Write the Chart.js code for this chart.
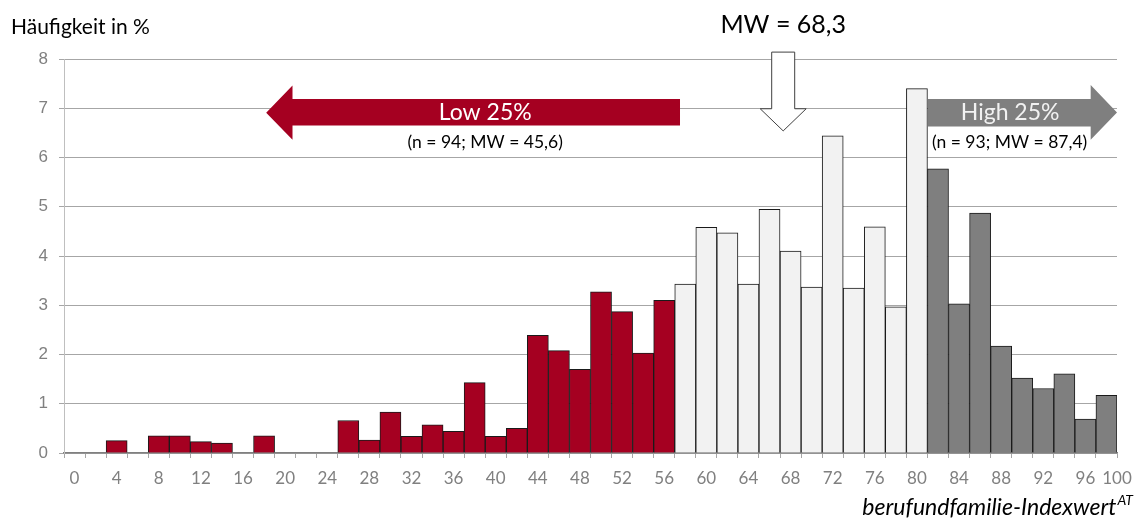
<!DOCTYPE html>
<html>
<head>
<meta charset="utf-8">
<title>berufundfamilie-Index Verteilung</title>
<script src="https://cdn.jsdelivr.net/npm/chart.js"></script>
<style>
    body { margin: 0; background: #fff; }
    #wrap { width: 1140px; height: 521px; }
</style>
</head>
<body>
<div id="wrap"><canvas id="indexChart"></canvas></div>
<script>
    // bins of width 2, labelled by lower bound
    const binLabels = ['0', '2', '4', '6', '8', '10', '12', '14', '16', '18',
        '20', '22', '24', '26', '28', '30', '32', '34', '36', '38',
        '40', '42', '44', '46', '48', '50', '52', '54', '56', '58',
        '60', '62', '64', '66', '68', '70', '72', '74', '76', '78',
        '80', '82', '84', '86', '88', '90', '92', '94', '96', '98'];
    // share of companies per bin, in %
    const shares = [0, 0, 0.25, 0, 0.35, 0.35, 0.23, 0.20, 0, 0.35,
        0, 0, 0, 0.66, 0.26, 0.83, 0.34, 0.57, 0.44, 1.43,
        0.34, 0.50, 2.39, 2.08, 1.70, 3.27, 2.87, 2.03, 3.10, 3.43,
        4.58, 4.47, 3.43, 4.95, 4.10, 3.37, 6.44, 3.35, 4.59, 2.97,
        7.40, 5.77, 3.03, 4.87, 2.17, 1.52, 1.31, 1.61, 0.69, 1.17];
    const lowLastBin = 56;    // bins up to here belong to the low 25%
    const highFirstBin = 82;  // bins from here belong to the high 25%
    const yMax = 8;
    const axisEndLabel = '100';

    const lowTexts = ['Low 25%', '(n = 94; MW = 45,6)'];
    const highTexts = ['High 25%', '(n = 93; MW = 87,4)'];
    const meanValue = 68.3;
    const meanText = 'MW = 68,3';

    const RED = '#A50021';
    const LIGHT = '#F2F2F2';
    const GREY = '#7F7F7F';

    // empty bins stay invisible
    const barColors = binLabels.map((l, i) => {
        const v = Number(l);
        if (!(shares[i] > 0)) return 'rgba(0,0,0,0)';
        if (v <= lowLastBin) return RED;
        if (v >= highFirstBin) return GREY;
        return LIGHT;
    });

    // block arrow along x (works for both directions)
    function hArrow(ctx, tail, headBase, tip, bodyTop, bodyBottom, headTop, headBottom, color) {
        ctx.beginPath();
        ctx.moveTo(tail, bodyTop);
        ctx.lineTo(headBase, bodyTop);
        ctx.lineTo(headBase, headTop);
        ctx.lineTo(tip, (headTop + headBottom) / 2);
        ctx.lineTo(headBase, headBottom);
        ctx.lineTo(headBase, bodyBottom);
        ctx.lineTo(tail, bodyBottom);
        ctx.closePath();
        ctx.fillStyle = color;
        ctx.fill();
    }

    function textWithBg(ctx, text, x, y) {
        const w = ctx.measureText(text).width;
        ctx.fillStyle = '#fff';
        ctx.fillRect(x - w / 2 - 1, y - 11, w + 2, 23);
        ctx.fillStyle = '#000';
        ctx.fillText(text, x, y);
    }

    const annotations = {
        id: 'annotations',
        afterDatasetsDraw(chart) {
            const ctx = chart.ctx;
            const xs = chart.scales.x, ys = chart.scales.y;
            // continuous index value (0..100) -> pixel
            const px = v => xs.getPixelForValue(v / 2 - 0.5);
            const py = v => ys.getPixelForValue(v);
            ctx.save();

            // low 25% arrow pointing left
            hArrow(ctx, px(58.5), px(21.7), px(19.2), py(7.19), py(6.65), py(7.46), py(6.36), RED);
            // high 25% arrow pointing right
            hArrow(ctx, px(82.05), px(97.5), px(100), py(7.19), py(6.63), py(7.47), py(6.36), GREY);

            ctx.textAlign = 'center';
            ctx.textBaseline = 'middle';
            ctx.font = '23px Lato';
            ctx.fillStyle = '#fff';
            ctx.fillText(lowTexts[0], px(40), py(6.92));
            ctx.fillStyle = '#F2F2F2';
            ctx.fillText(highTexts[0], px(89.85), py(6.92));

            ctx.font = '17.5px Lato';
            textWithBg(ctx, lowTexts[1], px(40), py(6.31));
            textWithBg(ctx, highTexts[1], px(89.8), py(6.31));

            // mean arrow pointing down
            const mx = px(meanValue);
            const top = py(8.14), neck = py(6.99), tip = py(6.54);
            ctx.beginPath();
            ctx.moveTo(mx - 11.5, top);
            ctx.lineTo(mx + 11.5, top);
            ctx.lineTo(mx + 11.5, neck);
            ctx.lineTo(mx + 23, neck);
            ctx.lineTo(mx, tip);
            ctx.lineTo(mx - 23, neck);
            ctx.lineTo(mx - 11.5, neck);
            ctx.closePath();
            ctx.fillStyle = '#fff';
            ctx.fill();
            ctx.strokeStyle = '#404040';
            ctx.lineWidth = 1;
            ctx.stroke();

            ctx.font = '25px Lato';
            ctx.fillStyle = '#000';
            ctx.textBaseline = 'alphabetic';
            ctx.fillText(meanText, mx, 33);
            ctx.restore();
        },
        afterDraw(chart) {
            const ctx = chart.ctx;
            const xs = chart.scales.x;
            ctx.save();

            // y axis title
            ctx.font = '21px Lato';
            ctx.fillStyle = '#000';
            ctx.textAlign = 'left';
            ctx.textBaseline = 'alphabetic';
            ctx.fillText('Häufigkeit in %', 11, 34);

            // closing label at the end of the x axis
            const item = xs.getLabelItems()[0];
            ctx.font = '17px Lato';
            ctx.fillStyle = '#808080';
            ctx.textAlign = 'center';
            ctx.textBaseline = item.options.textBaseline;
            ctx.fillText(axisEndLabel, xs.right, item.options.translation[1] + item.textOffset);

            // x axis title with superscript
            const main = 'berufundfamilie-Indexwert';
            const sup = 'AT';
            ctx.textBaseline = 'alphabetic';
            ctx.textAlign = 'left';
            ctx.fillStyle = '#000';
            ctx.font = 'italic 14px Lato';
            const supW = ctx.measureText(sup).width;
            ctx.font = 'italic 23px Lato';
            const mainW = ctx.measureText(main).width;
            const startX = 1133 - supW - mainW - 1;
            ctx.fillText(main, startX, 515);
            ctx.font = 'italic 14px Lato';
            ctx.fillText(sup, startX + mainW + 1, 505);
            ctx.restore();
        }
    };

    Chart.defaults.font.family = 'Lato';

    new Chart(document.getElementById('indexChart'), {
        type: 'bar',
        data: {
            labels: binLabels,
            datasets: [{
                data: shares,
                backgroundColor: barColors,
                borderColor: '#1a1a1a',
                borderWidth: c => (c.raw > 0 ? 1 : 0),
                barPercentage: 1,
                categoryPercentage: 1
            }]
        },
        options: {
            responsive: true,
            maintainAspectRatio: false,
            animation: false,
            layout: { padding: { top: 59, right: 23, bottom: 0, left: 0 } },
            plugins: {
                legend: { display: false },
                tooltip: { enabled: false }
            },
            scales: {
                x: {
                    offset: true,
                    afterFit: s => { s.height = 68; },
                    grid: {
                        offset: true,
                        drawOnChartArea: false,
                        drawTicks: true,
                        tickLength: 5,
                        color: '#a6a6a6'
                    },
                    border: { color: '#808080', width: 1.5 },
                    ticks: {
                        autoSkip: false,
                        maxRotation: 0,
                        minRotation: 0,
                        padding: 10,
                        color: '#808080',
                        font: { size: 17, family: 'Lato' },
                        callback: function (value, index) {
                            return index % 2 === 0 ? this.getLabelForValue(value) : '';
                        }
                    }
                },
                y: {
                    min: 0,
                    max: yMax,
                    afterFit: s => { s.width = 64; },
                    grid: {
                        color: '#a6a6a6',
                        tickLength: 5
                    },
                    border: { color: '#bfbfbf' },
                    ticks: {
                        stepSize: 1,
                        padding: 11,
                        color: '#808080',
                        font: { size: 17, family: 'Liberation Sans' }
                    }
                }
            }
        },
        plugins: [annotations]
    });
</script>
</body>
</html>
